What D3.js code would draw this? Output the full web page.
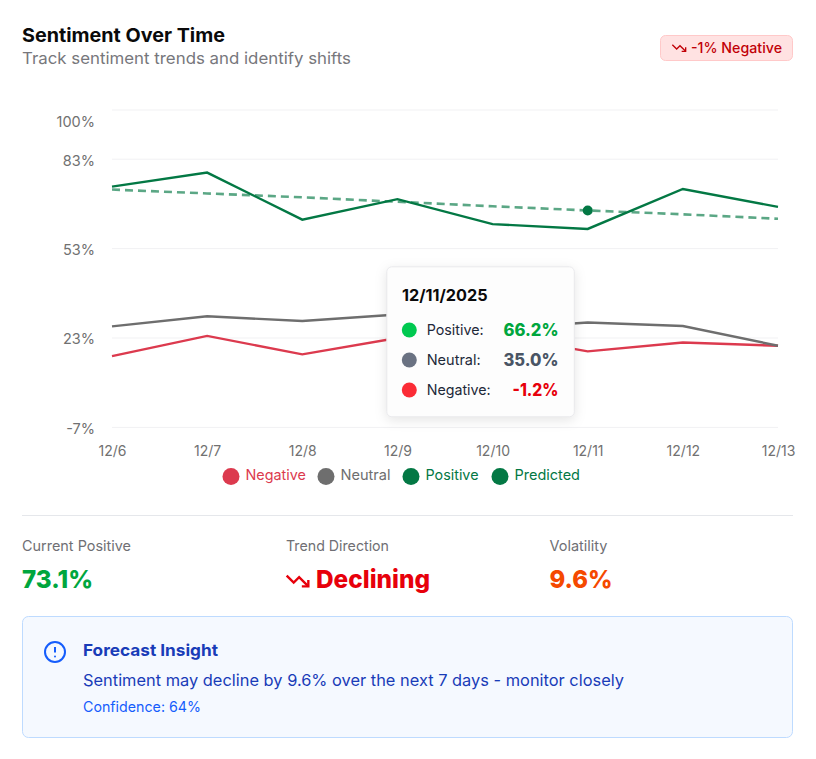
<!DOCTYPE html>
<html>
<head>
<meta charset="utf-8">
<script src="https://d3js.org/d3.v7.min.js"></script>
<style>
  html, body { margin: 0; padding: 0; background: #fff; }
  svg { display: block; }
  text { font-family: Inter, "Open Sans", sans-serif; }
</style>
</head>
<body>
<svg id="chart" width="816" height="759"></svg>
<script>
// values
const dates = ['12/6', '12/7', '12/8', '12/9', '12/10', '12/11', '12/12', '12/13'];
const positive = [73.8, 78.5, 62.7, 69.6, 61.2, 59.6, 73.0, 67.0];
const neutral = [26.9, 30.3, 28.7, 30.9, 26.0, 28.2, 27.0, 20.4];
const negative = [16.9, 23.7, 17.5, 23.0, 24.2, 18.5, 21.5, 20.4];
const predicted = [72.8, 71.5, 70.2, 68.7, 67.2, 65.8, 64.5, 63.0];
const yTicks = [-7, 23, 53, 83, 99.5];
const yTickLabels = ['-7%', '23%', '53%', '83%', '100%'];
const legendNames = ['Negative', 'Neutral', 'Positive', 'Predicted'];
const tooltipNames = ['Positive:', 'Neutral:', 'Negative:'];
const tooltipValues = ['66.2%', '35.0%', '-1.2%'];
const activeDate = '12/11';

const svg = d3.select('#chart');

const x = d3.scalePoint().domain(dates).range([112, 778]);
const y = d3.scaleLinear().domain([-7, 99.5]).range([427.4, 110]);

// text helper, width is the width measured in the reference
function label(px, py, str, size, fill, weight, width, anchor) {
    let t = svg.append('text').attr('x', px).attr('y', py).text(str)
        .attr('font-size', size).attr('fill', fill)
        .attr('font-weight', weight || 400)
        .attr('text-anchor', anchor || 'start');
    if (width) t.attr('textLength', width).attr('lengthAdjust', 'spacingAndGlyphs');
    return t;
}

function trendIcon(px, py, size, color, sw) {
    let g = svg.append('g').attr('transform', `translate(${px},${py}) scale(${size / 24})`)
        .attr('fill', 'none').attr('stroke', color).attr('stroke-width', sw);
    g.append('polyline').attr('points', '22 17 13.5 8.5 8.5 13.5 2 7');
    g.append('polyline').attr('points', '16 17 22 17 22 11');
}

// header
label(22, 41.5, 'Sentiment Over Time', 19, '#0a0a0a', 700, 203);
label(22, 63.5, 'Track sentiment trends and identify shifts', 16.5, '#77777c', 400, 329);

svg.append('rect').attr('x', 660.5).attr('y', 35.5).attr('width', 132).attr('height', 25).attr('rx', 5)
    .attr('fill', '#ffe2e2').attr('stroke', '#ffc9c9');
trendIcon(671, 40, 16, '#c10007', 2);
label(691, 53, '-1% Negative', 14.5, '#c10007', 500, 91);

// grid
svg.append('g').selectAll('line').data(yTicks).join('line')
    .attr('x1', x.range()[0]).attr('x2', x.range()[1])
    .attr('y1', d => y(d)).attr('y2', d => y(d))
    .attr('stroke', '#f1f1f3').attr('stroke-width', 1);

// axes
const yAxis = d3.axisLeft(y).tickValues(yTicks).tickSize(0).tickPadding(17)
    .tickFormat((d, i) => yTickLabels[i]);
const yG = svg.append('g').attr('transform', 'translate(112,0)').call(yAxis);
yG.select('.domain').remove();
yG.selectAll('text').attr('font-size', 14.5).attr('fill', '#717171')
    .style('font-family', 'Inter, sans-serif')
    .attr('dy', d => d === 99.5 ? 16.5 : 6);

const xAxis = d3.axisBottom(x).tickSize(0).tickPadding(16);
const xG = svg.append('g').attr('transform', 'translate(0,427.4)').call(xAxis);
xG.select('.domain').remove();
xG.selectAll('text').attr('font-size', 14).attr('fill', '#717171')
    .style('font-family', 'Inter, sans-serif').attr('dy', 13);

// lines
const line = d3.line().x((d, i) => x(dates[i])).y(d => y(d));
const lineColors = { negative: '#dc3a4e', neutral: '#6e6e6e', positive: '#037844' };

svg.append('path').datum(negative).attr('d', line).attr('fill', 'none')
    .attr('stroke', lineColors.negative).attr('stroke-width', 2.4);
svg.append('path').datum(neutral).attr('d', line).attr('fill', 'none')
    .attr('stroke', lineColors.neutral).attr('stroke-width', 2.4);
svg.append('path').datum(positive).attr('d', line).attr('fill', 'none')
    .attr('stroke', lineColors.positive).attr('stroke-width', 2.4);
svg.append('path').datum(predicted).attr('d', line).attr('fill', 'none')
    .attr('stroke', lineColors.positive).attr('stroke-width', 2.6)
    .attr('stroke-opacity', 0.65).attr('stroke-dasharray', '8 5');

svg.append('circle').attr('cx', x(activeDate))
    .attr('cy', y(predicted[dates.indexOf(activeDate)])).attr('r', 5)
    .attr('fill', lineColors.positive);

// legend
const legendColors = [lineColors.negative, lineColors.neutral, lineColors.positive, lineColors.positive];
const legendX = [231, 326, 411, 500];
const legendWidths = [60.5, 50, 53, 65.5];
legendNames.forEach((name, i) => {
    svg.append('circle').attr('cx', legendX[i]).attr('cy', 476.5).attr('r', 8.5).attr('fill', legendColors[i]);
    label(legendX[i] + 14.5, 480, name, 14.5, legendColors[i], 400, legendWidths[i]);
});

// tooltip
svg.append('rect').attr('x', 386.8).attr('y', 266.8).attr('width', 187.5).attr('height', 150).attr('rx', 5)
    .attr('fill', '#fdfdfd').attr('stroke', '#e9e9ec')
    .style('filter', 'drop-shadow(0 3px 6px rgba(0,0,0,0.10))');
label(402, 300.5, '12/11/2025', 16, '#0a0a0a', 700, 85.5);
const tipDot = ['#00c950', '#6a7282', '#fb2c36'];
const tipVal = ['#00a63e', '#4a5565', '#e7000b'];
const tipNameW = [57, 54, 64];
const tipValW = [55, 55, 46];
tooltipNames.forEach((name, i) => {
    let py = 330 + i * 30;
    svg.append('circle').attr('cx', 409.3).attr('cy', py).attr('r', 7.5).attr('fill', tipDot[i]);
    label(426.7, py + 5, name, 14.5, '#1e2939', 400, tipNameW[i]);
    label(558.5, py + 6, tooltipValues[i], 17, tipVal[i], 800, tipValW[i], 'end');
});

// divider and stats
svg.append('line').attr('x1', 22).attr('x2', 793).attr('y1', 515.5).attr('y2', 515.5).attr('stroke', '#e5e7eb');

label(22, 551, 'Current Positive', 14.5, '#6f6f74', 400, 109);
label(286, 551, 'Trend Direction', 14.5, '#6f6f74', 400, 103);
label(549.5, 551, 'Volatility', 14.5, '#6f6f74', 400, 58);

label(22, 588, '73.1%', 25, '#00a63e', 800, 71);
trendIcon(284.5, 568, 26, '#e7000b', 2.2);
label(316, 588, 'Declining', 25, '#e7000b', 800, 114);
label(549.5, 588, '9.6%', 25, '#f54900', 800, 63);

// forecast box
svg.append('rect').attr('x', 22.5).attr('y', 616.5).attr('width', 770).attr('height', 121).attr('rx', 6)
    .attr('fill', '#f5f9ff').attr('stroke', '#bedbff');
const info = svg.append('g').attr('fill', 'none').attr('stroke', '#155dfc').attr('stroke-width', 2);
info.append('circle').attr('cx', 55).attr('cy', 652).attr('r', 10);
info.append('line').attr('x1', 55).attr('x2', 55).attr('y1', 647).attr('y2', 652.5);
info.append('line').attr('x1', 55).attr('x2', 55.01).attr('y1', 656.5).attr('y2', 656.5).attr('stroke-linecap', 'round');

label(83, 656, 'Forecast Insight', 16.5, '#193cb8', 700, 135);
label(83, 686, 'Sentiment may decline by 9.6% over the next 7 days - monitor closely', 16.5, '#193cb8', 400, 541);
label(83, 712, 'Confidence: 64%', 14.5, '#155dfc', 400, 118);
</script>
</body>
</html>
